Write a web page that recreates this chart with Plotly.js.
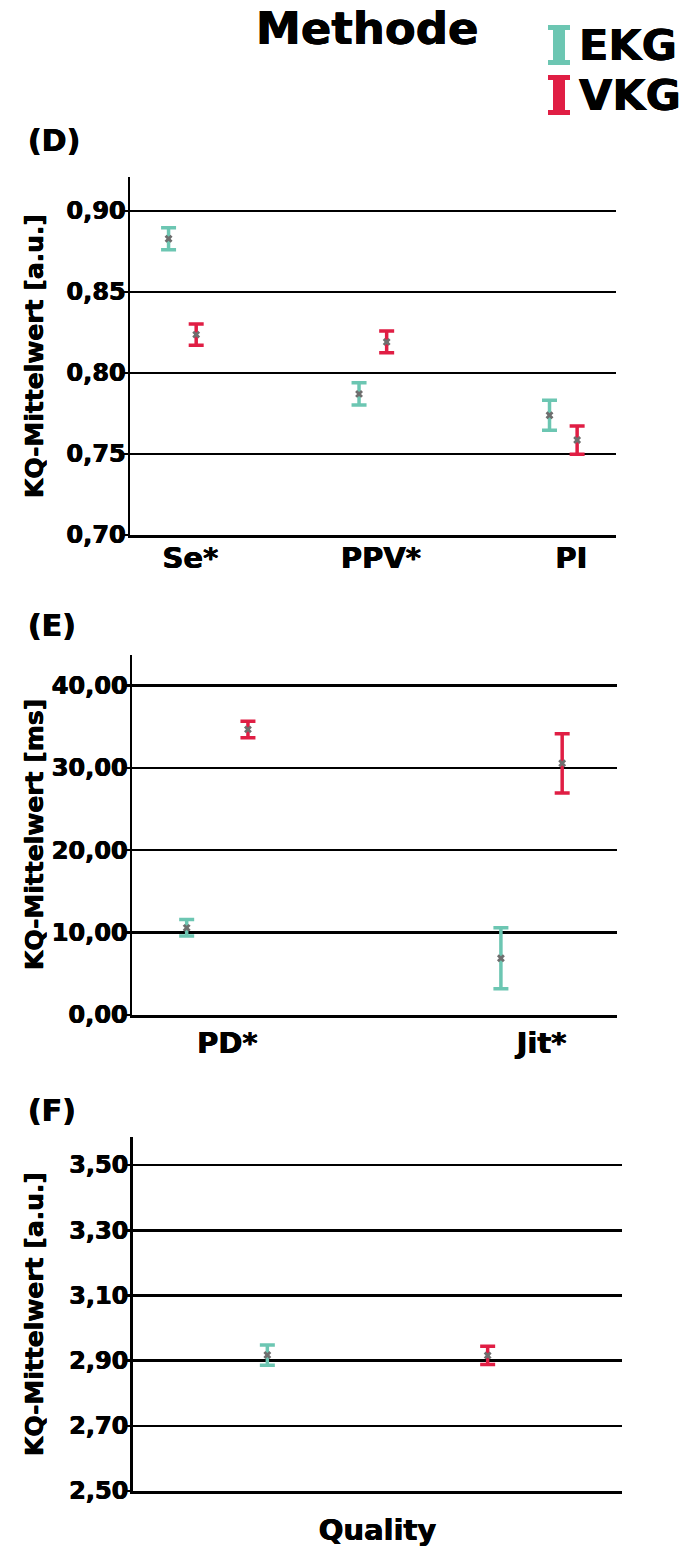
<!DOCTYPE html>
<html>
<head>
<meta charset="utf-8">
<script src="https://cdn.plot.ly/plotly-3.0.1.min.js"></script>
<style>
  html, body { margin: 0; padding: 0; background: #ffffff; }
  #chart { width: 686px; height: 1550px; }
</style>
</head>
<body>
<div id="chart"></div>
<script>
// Panel D: detection quality (arbitrary units)
const catsD = ['Se*', 'PPV*', 'PI'];
const ekgD = [0.8829, 0.7871, 0.7739];
const ekgDErr = [0.0068, 0.0069, 0.0093];
const vkgD = [0.8237, 0.8192, 0.7586];
const vkgDErr = [0.0066, 0.0067, 0.0087];

// Panel E: timing quality (ms)
const catsE = ['PD*', 'Jit*'];
const ekgE = [10.58, 6.88];
const ekgEErr = [1.0, 3.7];
const vkgE = [34.67, 30.55];
const vkgEErr = [1.0, 3.6];

// Panel F: overall quality (arbitrary units)
const catsF = ['Quality'];
const ekgF = [2.917];
const ekgFErr = [0.031];
const vkgF = [2.916];
const vkgFErr = [0.028];

const groups = ['EKG', 'VKG'];
const colors = { EKG: '#6cc6b2', VKG: '#e01e44' };

const W = 686, H = 1550;
const px = v => v / W;
const py = v => 1 - v / H;
const FONT = 'DejaVu Sans, Liberation Sans, Arial, sans-serif';
// slight outline to make the bold face read heavier
const HEAVY = '0.4px 0 0 #000, -0.4px 0 0 #000';

function boldFont(size) {
  return { family: FONT, size: size, color: '#000000', weight: 'bold', shadow: HEAVY };
}

function errTrace(cats, vals, errs, group, offset, xa, ya) {
  return {
    type: 'scatter',
    mode: 'markers',
    name: group,
    showlegend: false,
    x: cats.map((c, i) => i + offset),
    y: vals,
    xaxis: xa,
    yaxis: ya,
    marker: { symbol: 'x', size: 7, color: '#6e6e6e', line: { width: 0 } },
    error_y: { type: 'data', array: errs, visible: true, color: colors[group], thickness: 3.5, width: 7.5 },
    hoverinfo: 'x+y'
  };
}

const data = [
  errTrace(catsD, ekgD, ekgDErr, 'EKG', -0.0725, 'x', 'y'),
  errTrace(catsD, vkgD, vkgDErr, 'VKG', 0.0725, 'x', 'y'),
  errTrace(catsE, ekgE, ekgEErr, 'EKG', -0.0975, 'x2', 'y2'),
  errTrace(catsE, vkgE, vkgEErr, 'VKG', 0.0975, 'x2', 'y2'),
  errTrace(catsF, ekgF, ekgFErr, 'EKG', -0.45, 'x3', 'y3'),
  errTrace(catsF, vkgF, vkgFErr, 'VKG', 0.45, 'x3', 'y3')
];

function yAxis(domTop, domBot, range, tick0, dtick, anchor) {
  return {
    domain: [py(domBot), py(domTop)],
    range: range,
    anchor: anchor,
    tick0: tick0,
    dtick: dtick,
    tickformat: '.2f',
    showgrid: true,
    gridcolor: '#000000',
    gridwidth: 2.5,
    zeroline: false,
    showline: true,
    linecolor: '#000000',
    linewidth: 2.5,
    ticks: 'outside',
    ticklen: 6,
    tickwidth: 2.5,
    tickcolor: '#000000',
    ticklabelstandoff: -9,
    tickfont: boldFont(24),
    fixedrange: true
  };
}

function xAxis(left, right, range, cats, anchor, standoff, shift) {
  return {
    domain: [px(left), px(right)],
    range: range,
    anchor: anchor,
    tickmode: 'array',
    tickvals: cats.map((c, i) => i),
    ticktext: cats,
    ticks: '',
    ticklabelstandoff: standoff,
    ticklabelshift: shift,
    showgrid: false,
    zeroline: false,
    showline: true,
    linecolor: '#000000',
    linewidth: 2.5,
    tickfont: boldFont(29),
    fixedrange: true
  };
}

function iBeam(cx, cy, color) {
  return {
    type: 'path',
    xref: 'paper', yref: 'paper',
    xsizemode: 'pixel', ysizemode: 'pixel',
    xanchor: px(cx), yanchor: py(cy),
    path: 'M-11,-20 H11 V-15 H6 V15 H11 V20 H-11 V15 H-6 V-15 H-11 Z',
    fillcolor: color,
    line: { width: 0 }
  };
}

function label(text, x, y, size, opts) {
  return Object.assign({
    text: text,
    xref: 'paper', yref: 'paper',
    x: px(x), y: py(y),
    showarrow: false,
    font: boldFont(size)
  }, opts || {});
}

const layout = {
  width: W,
  height: H,
  margin: { l: 0, r: 0, t: 0, b: 0 },
  paper_bgcolor: '#ffffff',
  plot_bgcolor: '#ffffff',
  separators: ',.',
  showlegend: false,
  xaxis: xAxis(130, 615.7, [-0.275, 2.275], catsD, 'y', -4, 8),
  yaxis: yAxis(177, 535, [0.70, 0.921], 0.70, 0.05, 'x'),
  xaxis2: xAxis(132, 616.7, [-0.2715, 1.271], catsE, 'y2', 1, 10),
  yaxis2: yAxis(655, 1015, [0, 43.7], 0, 10, 'x2'),
  xaxis3: xAxis(132.7, 622.3, [-1, 1], catsF, 'y3', 12, 0),
  yaxis3: yAxis(1136.7, 1491, [2.5, 3.587], 2.5, 0.2, 'x3'),
  shapes: [
    iBeam(559, 45, colors.EKG),
    iBeam(559, 95, colors.VKG)
  ],
  annotations: [
    label('Methode', 367, 29, 45, { xanchor: 'center', yanchor: 'middle' }),
    label(groups[0], 577, 45, 43, { xanchor: 'left', yanchor: 'middle' }),
    label(groups[1], 577, 95, 43, { xanchor: 'left', yanchor: 'middle' }),
    label('(D)', 26, 140, 30, { xanchor: 'left', yanchor: 'middle' }),
    label('(E)', 26, 625, 30, { xanchor: 'left', yanchor: 'middle' }),
    label('(F)', 26, 1110, 30, { xanchor: 'left', yanchor: 'middle' }),
    label('KQ-Mittelwert [a.u.]', 34, 356, 25, { textangle: -90, xanchor: 'center', yanchor: 'middle' }),
    label('KQ-Mittelwert [ms]', 34, 835, 25, { textangle: -90, xanchor: 'center', yanchor: 'middle' }),
    label('KQ-Mittelwert [a.u.]', 34, 1314, 25, { textangle: -90, xanchor: 'center', yanchor: 'middle' })
  ]
};

Plotly.newPlot('chart', data, layout, { displayModeBar: false, staticPlot: true });
</script>
</body>
</html>
